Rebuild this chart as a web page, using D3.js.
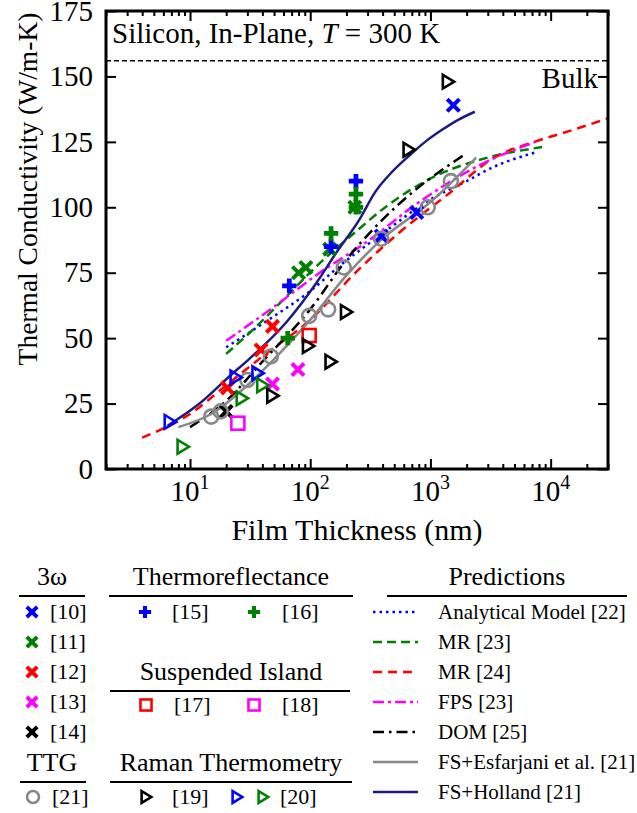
<!DOCTYPE html>
<html><head><meta charset="utf-8">
<script src="https://cdn.jsdelivr.net/npm/d3@7"></script>
<style>
body{margin:0;background:#fff;}
svg text{font-family:"Liberation Serif","Times New Roman",serif !important;fill:#000;}
</style></head><body>
<script>
// measured data (film thickness in nm, conductivity in W/m-K)
var xMajor = [10, 100, 1000, 10000],
    yTicks = [0, 25, 50, 75, 100, 125, 150, 175],
    bulkValue = 156;

// 3-omega
var omega10 = [[390, 89], [770, 98], [1550, 139]],
    omega11 = [[80, 75], [92, 77], [145, 84], [235, 100]],
    omega12 = [[20.5, 31], [39, 45.5], [48.5, 54.5]],
    omega13 = [[48.5, 32.5], [79, 38]],
    omega14 = [[20, 22]];
// thermoreflectance
var thermo15 = [[67, 70], [149, 85], [240, 110]],
    thermo16 = [[65, 50], [149, 90], [240, 100], [240, 105]];
// suspended island
var island17 = [[98, 51]],
    island18 = [[25, 17.5]];
// TTG
var ttg21 = [[15, 20], [18, 22], [30, 34], [47, 43], [98, 58.5], [141, 61], [190, 77], [390, 88], [950, 100], [1480, 110]];
// raman
var raman19 = [[48.5, 28], [96, 47], [148, 41], [199, 60], [660, 122], [1400, 148]],
    raman20b = [[6.8, 18], [24, 35], [36.5, 36.6]],
    raman20g = [[8.7, 8.5], [27, 27], [40, 32]];

// predictions
var predAnalytical = [[20, 46.5], [45, 57], [100, 68], [180, 78], [400, 90], [1000, 103], [2000, 110], [3200, 115], [7500, 121]],
    predMR23 = [[20, 44], [33, 53], [67, 67], [110, 77], [230, 90], [450, 101], [1000, 111], [3000, 119], [8500, 123]],
    predMR24 = [[4, 12], [6, 15.5], [10, 21], [20, 32], [40, 43], [100, 57], [250, 76], [540, 90], [1400, 105], [3400, 119], [7300, 125], [14000, 129], [30000, 134]],
    predFPS = [[20, 49], [50, 62], [120, 75], [300, 87], [750, 101], [2800, 117], [7500, 125]],
    predDOM = [[10, 16], [20, 26], [40, 41], [100, 61], [200, 80], [540, 101], [1900, 120]],
    predEsf = [[8, 16], [15, 21], [30, 32], [50, 42], [100, 57], [200, 74], [400, 88], [1000, 102], [2400, 119]],
    predHolland = [[6.5, 16.5], [12, 25], [22, 36], [31, 42], [63, 56], [112, 71], [164, 82.5], [254, 95], [349, 106], [479, 113.5], [658, 119.5], [903, 125], [1240, 129.5], [1700, 133.4], [2340, 136.5]];

var width = 637, height = 813;
var pLeft = 106, pRight = 608, pTop = 11, pBottom = 469;
var serif = "'Liberation Serif', 'Times New Roman', serif";

var svg = d3.select("body").append("svg")
    .attr("width", width)
    .attr("height", height)
    .style("font-family", serif);

var x = d3.scaleLog().domain([2, 3e4]).range([pLeft, pRight]);
var y = d3.scaleLinear().domain([0, 175]).range([pBottom, pTop]);

// symbols
var symX = {draw: function(ctx, size){ var h = Math.sqrt(size) / 2;
    ctx.moveTo(-h, -h); ctx.lineTo(h, h); ctx.moveTo(-h, h); ctx.lineTo(h, -h); }};
var symTri = {draw: function(ctx, size){ var h = Math.sqrt(size) / 2;
    ctx.moveTo(-h * 0.75, -h); ctx.lineTo(h * 0.9, 0); ctx.lineTo(-h * 0.75, h); ctx.closePath(); }};

var blue = "#0000ff", green = "#008000", red = "#ff0000", magenta = "#ff00ff", gray = "#888888", navy = "#1c1c80";

var markerSeries = [
  {data: omega10, type: "x", color: blue},
  {data: omega11, type: "x", color: green},
  {data: omega12, type: "x", color: red},
  {data: omega13, type: "x", color: magenta},
  {data: omega14, type: "x", color: "#000"},
  {data: thermo15, type: "+", color: blue},
  {data: thermo16, type: "+", color: green},
  {data: island17, type: "sq", color: red},
  {data: island18, type: "sq", color: magenta},
  {data: ttg21, type: "o", color: gray},
  {data: raman19, type: "tri", color: "#000"},
  {data: raman20b, type: "tri", color: blue},
  {data: raman20g, type: "tri", color: green}
];

var lineSeries = [
  {data: predAnalytical, color: blue, dash: "2.5,4", name: "Analytical Model [22]"},
  {data: predMR23, color: green, dash: "9,5", name: "MR [23]"},
  {data: predMR24, color: red, dash: "9,6", name: "MR [24]"},
  {data: predFPS, color: magenta, dash: "11,4,3,4", name: "FPS [23]"},
  {data: predDOM, color: "#000", dash: "11,5,2.5,5", name: "DOM [25]"},
  {data: predEsf, color: gray, dash: null, name: "FS+Esfarjani et al. [21]"},
  {data: predHolland, color: navy, dash: null, name: "FS+Holland [21]"}
];

function drawMarker(g, type, color, scale){
  scale = scale || 1;
  if (type === "x") {
    return g.append("path").attr("d", d3.symbol(symX, 150 * scale * scale)())
      .attr("fill", "none").attr("stroke", color).attr("stroke-width", 4);
  } else if (type === "+") {
    return g.append("path").attr("d", d3.symbol(d3.symbolCross, 115 * scale * scale)())
      .attr("fill", color);
  } else if (type === "sq") {
    var s = 13 * scale;
    return g.append("rect").attr("x", -s / 2).attr("y", -s / 2).attr("width", s).attr("height", s)
      .attr("fill", "none").attr("stroke", color).attr("stroke-width", 2.6);
  } else if (type === "o") {
    return g.append("circle").attr("r", 7 * scale)
      .attr("fill", "none").attr("stroke", color).attr("stroke-width", 2.6);
  } else {
    return g.append("path").attr("d", d3.symbol(symTri, 190 * scale * scale)())
      .attr("fill", "none").attr("stroke", color).attr("stroke-width", 2.6).attr("stroke-linejoin", "miter");
  }
}

// clip
svg.append("clipPath").attr("id", "clip").append("rect")
  .attr("x", pLeft).attr("y", pTop).attr("width", pRight - pLeft).attr("height", pBottom - pTop);

var plot = svg.append("g").attr("clip-path", "url(#clip)");

// bulk line
plot.append("line")
  .attr("x1", pLeft).attr("x2", pRight).attr("y1", y(bulkValue)).attr("y2", y(bulkValue))
  .attr("stroke", "#000").attr("stroke-width", 1.5).attr("stroke-dasharray", "5,3");

var line = d3.line()
  .x(function(d){ return x(d[0]); })
  .y(function(d){ return y(d[1]); })
  .curve(d3.curveMonotoneX);

lineSeries.forEach(function(s){
  plot.append("path")
    .attr("d", line(s.data))
    .attr("fill", "none")
    .attr("stroke", s.color)
    .attr("stroke-width", 2.5)
    .attr("stroke-dasharray", s.dash);
});

markerSeries.forEach(function(s){
  s.data.forEach(function(d){
    var g = plot.append("g").attr("transform", "translate(" + x(d[0]) + "," + y(d[1]) + ")");
    drawMarker(g, s.type, s.color);
  });
});

// axes, ticks inward
var minors = [];
[1, 10, 100, 1000, 10000].forEach(function(b){
  for (var k = 2; k <= 9; k++) if (b * k >= 2 && b * k <= 3e4) minors.push(b * k);
});

function tickAxis(axis, size, vals){ return axis.tickValues(vals).tickSize(size).tickFormat(""); }

svg.append("g").attr("transform", "translate(0," + pBottom + ")")
  .call(tickAxis(d3.axisBottom(x), -10, xMajor));
svg.append("g").attr("transform", "translate(0," + pBottom + ")")
  .call(tickAxis(d3.axisBottom(x), -5, minors));
svg.append("g").attr("transform", "translate(0," + pTop + ")")
  .call(tickAxis(d3.axisTop(x), -10, xMajor));
svg.append("g").attr("transform", "translate(0," + pTop + ")")
  .call(tickAxis(d3.axisTop(x), -5, minors));
svg.append("g").attr("transform", "translate(" + pRight + ",0)")
  .call(tickAxis(d3.axisRight(y), -10, yTicks));

svg.append("g").attr("class", "y-axis")
  .attr("transform", "translate(" + pLeft + ",0)")
  .call(d3.axisLeft(y).tickValues(yTicks).tickSize(-10).tickPadding(13));

svg.selectAll(".domain").remove();
svg.selectAll("g").attr("font-family", null);
svg.selectAll(".tick line").attr("stroke", "#000").attr("stroke-width", 2);
svg.selectAll(".y-axis text").style("font-size", "29px");

// frame
svg.append("rect").attr("x", pLeft).attr("y", pTop).attr("width", pRight - pLeft).attr("height", pBottom - pTop)
  .attr("fill", "none").attr("stroke", "#000").attr("stroke-width", 3);

// x labels with superscript
xMajor.forEach(function(v){
  var t = svg.append("text").attr("x", x(v)).attr("y", 501)
    .attr("text-anchor", "middle").style("font-size", "29px");
  t.append("tspan").text("10");
  t.append("tspan").attr("dy", -12).style("font-size", "20px").text(Math.round(Math.log10(v)));
});

svg.append("text").attr("x", 357).attr("y", 540).attr("text-anchor", "middle")
  .style("font-size", "30px").text("Film Thickness (nm)");
svg.append("text").attr("transform", "translate(37,189) rotate(-90)").attr("text-anchor", "middle")
  .style("font-size", "27.5px").text("Thermal Conductivity (W/m-K)");

var title = svg.append("text").attr("x", 112).attr("y", 43).style("font-size", "29px");
title.append("tspan").text("Silicon, In-Plane, ");
title.append("tspan").style("font-style", "italic").text("T");
title.append("tspan").text(" = 300 K");

svg.append("text").attr("x", 598).attr("y", 88).attr("text-anchor", "end")
  .style("font-size", "29px").text("Bulk");

// legend
function header(txt, cx, cy, x1, x2){
  svg.append("text").attr("x", cx).attr("y", cy).attr("text-anchor", "middle")
    .style("font-size", "26px").text(txt);
  svg.append("line").attr("x1", x1).attr("x2", x2).attr("y1", cy + 11).attr("y2", cy + 11)
    .attr("stroke", "#000").attr("stroke-width", 2);
}
function entry(type, color, mx, my, label, tx){
  var g = svg.append("g").attr("transform", "translate(" + mx + "," + my + ")");
  drawMarker(g, type, color, 0.85);
  if (label) svg.append("text").attr("x", tx).attr("y", my + 7).style("font-size", "22px").text(label);
}

header("3\u03c9", 52, 585, 19, 85);
["[10]", "[11]", "[12]", "[13]", "[14]"].forEach(function(lab, i){
  entry("x", markerSeries[i].color, 32, 612 + 30 * i, lab, 50);
});
header("TTG", 52, 771, 20, 86);
entry("o", gray, 33, 797, "[21]", 52);

header("Thermoreflectance", 231, 585, 109, 353);
entry("+", blue, 145, 612, "[15]", 172);
entry("+", green, 254, 612, "[16]", 282);

header("Suspended Island", 231, 680, 110, 350);
entry("sq", red, 146, 705, "[17]", 174);
entry("sq", magenta, 254, 705, "[18]", 282);

header("Raman Thermometry", 231, 771, 110, 352);
entry("tri", "#000", 146, 797, "[19]", 172);
entry("tri", blue, 237, 797, null);
entry("tri", green, 263, 797, "[20]", 280);

header("Predictions", 507, 585, 387, 627);
lineSeries.forEach(function(s, i){
  var yy = 612 + 30 * i;
  svg.append("line").attr("x1", 373).attr("x2", 418).attr("y1", yy).attr("y2", yy)
    .attr("stroke", s.color).attr("stroke-width", 2.5).attr("stroke-dasharray", s.dash);
  svg.append("text").attr("x", 438).attr("y", yy + 7).style("font-size", "21px").text(s.name);
});
</script></body></html>
